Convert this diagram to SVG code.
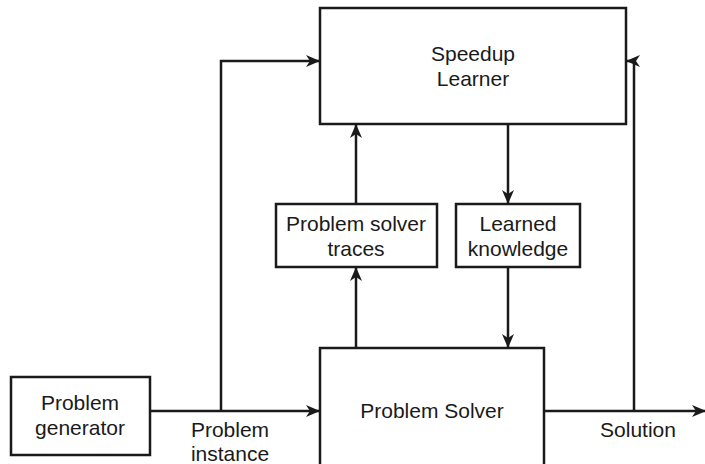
<svg xmlns="http://www.w3.org/2000/svg" width="705" height="464" viewBox="0 0 705 464">
<style>
.box{fill:#fff;stroke:#1a1a1a;stroke-width:2.5}
.ln{fill:none;stroke:#1a1a1a;stroke-width:2.5}
text{font-family:"Liberation Sans",Arial,sans-serif;font-size:21px;fill:#1a1a1a;text-anchor:middle}
</style>
<defs>
<marker id="ah" viewBox="0 0 14 12" refX="13" refY="6" markerWidth="14" markerHeight="12" markerUnits="userSpaceOnUse" orient="auto">
<path d="M0,0 L14,6 L0,12 L4,6 Z" fill="#1a1a1a"/>
</marker>
</defs>
<g id="connectors">
<path class="ln" d="M150,411 H319" marker-end="url(#ah)"/>
<path class="ln" d="M221,411 V61 H319" marker-end="url(#ah)"/>
<path class="ln" d="M544,411 H705" marker-end="url(#ah)"/>
<path class="ln" d="M634,411 V61 H627" marker-end="url(#ah)"/>
<path class="ln" d="M356,348 V268" marker-end="url(#ah)"/>
<path class="ln" d="M356,204 V125" marker-end="url(#ah)"/>
<path class="ln" d="M508,124 V203" marker-end="url(#ah)"/>
<path class="ln" d="M508,267 V347" marker-end="url(#ah)"/>
</g>
<g id="speedup-learner">
<rect class="box" x="320" y="8" width="306" height="116"/>
<text x="473" y="61">Speedup</text>
<text x="473" y="86">Learner</text>
</g>
<g id="problem-solver-traces">
<rect class="box" x="276" y="204" width="161" height="63"/>
<text x="356" y="231">Problem solver</text>
<text x="356" y="256">traces</text>
</g>
<g id="learned-knowledge">
<rect class="box" x="456" y="204" width="124" height="63"/>
<text x="518" y="231">Learned</text>
<text x="518" y="256">knowledge</text>
</g>
<g id="problem-generator">
<rect class="box" x="11" y="377" width="139" height="78"/>
<text x="80" y="410">Problem</text>
<text x="80" y="435">generator</text>
</g>
<g id="problem-solver">
<rect class="box" x="320" y="348" width="224" height="120"/>
<text x="432" y="418">Problem Solver</text>
</g>
<g id="labels">
<text x="230" y="437">Problem</text>
<text x="230" y="461">instance</text>
<text x="638" y="437">Solution</text>
</g>
</svg>
